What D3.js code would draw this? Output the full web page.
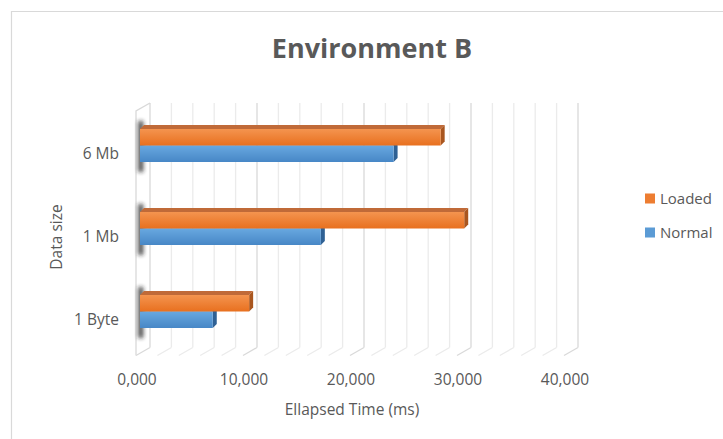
<!DOCTYPE html>
<html>
<head>
<meta charset="utf-8">
<script src="https://cdn.jsdelivr.net/npm/d3@7"></script>
<style>
  html, body { margin: 0; padding: 0; background: #fff; }
  svg { display: block; font-family: "Open Sans", "Noto Sans", sans-serif; }
</style>
</head>
<body>
<svg id="chart" width="723" height="439"></svg>
<script>
// Data
const categories = ["6 Mb", "1 Mb", "1 Byte"];
const seriesNames = ["Loaded", "Normal"];
const loadedValues = [28100, 30300, 10200];
const normalValues = [23700, 16900, 6800];
const tickValues = [0, 10000, 20000, 30000, 40000];
const tickLabels = ["0,000", "10,000", "20,000", "30,000", "40,000"];

const svg = d3.select("#chart");
const W = 723, H = 439;

// Oblique 3D offsets
const wallDX = 10;                // back wall shift relative to the bar front plane
const floorDX = -14, floorDY = 8; // floor depth (back wall base -> front edge)
const barDX = 4, barDY = -4;      // bar depth faces

const x = d3.scaleLinear().domain([0, 40000]).range([140, 568]);
const y = d3.scaleBand().domain(categories).range([104, 353]);
const sub = d3.scaleBand().domain(seriesNames).range([0, 33]);
const bandOffset = (y.bandwidth() - 33) / 2;

const wallTop = 103, wallBottom = 347.5;
const labelSize = 15.5;

const defs = svg.append("defs");
function vGrad(id, c0, c1) {
  const g = defs.append("linearGradient").attr("id", id).attr("x1", 0).attr("y1", 0).attr("x2", 0).attr("y2", 1);
  g.append("stop").attr("offset", "0%").attr("stop-color", c0);
  g.append("stop").attr("offset", "100%").attr("stop-color", c1);
}
vGrad("gLoaded", "#F4944F", "#E8701F");
vGrad("gNormal", "#68A8E0", "#4787C6");
defs.append("filter").attr("id", "blur").attr("x", "-100%").attr("y", "-50%").attr("width", "300%").attr("height", "200%")
  .append("feGaussianBlur").attr("stdDeviation", 2);

// Chart frame
svg.append("path").attr("d", `M11.5,${H} V11.5 H${W}`).attr("fill", "none").attr("stroke", "#D9D9D9").attr("stroke-width", 1.2);

// Title
svg.append("text").attr("x", 372).attr("y", 57.5).attr("text-anchor", "middle")
  .attr("font-size", 27).attr("font-weight", 700).attr("fill", "#595959").text("Environment B");

// Back wall gridlines + floor diagonals
const gridVals = d3.range(0, 40001, 2000);
const grid = svg.append("g");
gridVals.forEach(v => {
  const xb = x(v) + wallDX;
  const major = v % 10000 === 0;
  const col = major ? "#D9D9D9" : "#EBEBEB";
  grid.append("line").attr("x1", xb).attr("x2", xb).attr("y1", wallTop).attr("y2", wallBottom)
    .attr("stroke", col).attr("stroke-width", 1.3);
  grid.append("line").attr("x1", xb).attr("y1", wallBottom).attr("x2", xb + floorDX).attr("y2", wallBottom + floorDY)
    .attr("stroke", col).attr("stroke-width", 1.3);
});

// Side wall outline
const x0b = x(0) + wallDX, x0f = x0b + floorDX;
svg.append("path")
  .attr("d", `M${x0f},${wallBottom + floorDY} V${wallTop + floorDY} L${x0b},${wallTop}`)
  .attr("fill", "none").attr("stroke", "#D9D9D9").attr("stroke-width", 1.3);

// Bars
const rows = categories.map((c, i) => ({ cat: c, Loaded: loadedValues[i], Normal: normalValues[i] }));

// Shadows on the side wall
rows.forEach(r => {
  const top = y(r.cat) + bandOffset + barDY;
  svg.append("rect").attr("x", x(0) - 1.5).attr("y", top - 4).attr("width", 4.5).attr("height", 33 - barDY + 14)
    .attr("fill", "#222").attr("opacity", 0.9).attr("filter", "url(#blur)");
});

const face = {
  Loaded: { front: "url(#gLoaded)", top: "#C06A38", side: "#A9561F" },
  Normal: { front: "url(#gNormal)", top: "#3F77AE", side: "#2F6194" }
};

const barsG = svg.append("g");
rows.forEach(r => {
  // draw Normal first so the Loaded bar above covers its hidden top
  ["Normal", "Loaded"].forEach(s => {
    const v = r[s];
    const x0 = x(0), x1 = x(v);
    const y0 = y(r.cat) + bandOffset + sub(s), h = sub.bandwidth();
    const g = barsG.append("g");
    // top face
    g.append("path").attr("d", `M${x0},${y0} L${x0 + barDX},${y0 + barDY} L${x1 + barDX},${y0 + barDY} L${x1},${y0} Z`)
      .attr("fill", face[s].top);
    // right face
    g.append("path").attr("d", `M${x1},${y0} L${x1 + barDX},${y0 + barDY} L${x1 + barDX},${y0 + h + barDY} L${x1},${y0 + h} Z`)
      .attr("fill", face[s].side);
    // front face
    g.append("rect").attr("x", x0).attr("y", y0).attr("width", x1 - x0).attr("height", h)
      .attr("fill", face[s].front);
  });
});

// Category labels
svg.append("g").selectAll("text").data(categories).join("text")
  .attr("x", 119).attr("y", d => y(d) + y.bandwidth() / 2 + 13.5)
  .attr("text-anchor", "end").attr("font-size", labelSize).attr("fill", "#595959").text(d => d);

// Value axis labels (front edge of the floor)
svg.append("g").selectAll("text").data(tickValues).join("text")
  .attr("x", (d) => x(d) + wallDX + floorDX + 1).attr("y", 384.5)
  .attr("text-anchor", "middle").attr("font-size", labelSize).attr("fill", "#595959")
  .text((d, i) => tickLabels[i]);

// Axis titles
svg.append("text").attr("x", 352).attr("y", 414.5).attr("text-anchor", "middle")
  .attr("font-size", labelSize).attr("fill", "#595959").text("Ellapsed Time (ms)");
svg.append("text").attr("transform", "translate(62,237) rotate(-90)").attr("text-anchor", "middle")
  .attr("font-size", labelSize).attr("fill", "#595959").text("Data size");

// Legend
const legendColors = { Loaded: "#ED7D31", Normal: "#5B9BD5" };
const leg = svg.append("g");
seriesNames.forEach((s, i) => {
  const ly = 198.5 + i * 34;
  leg.append("rect").attr("x", 645).attr("y", ly - 5).attr("width", 10).attr("height", 10).attr("fill", legendColors[s]);
  leg.append("text").attr("x", 660).attr("y", ly + 5.5).attr("font-size", 15).attr("fill", "#595959").text(s);
});
</script>
</body>
</html>
